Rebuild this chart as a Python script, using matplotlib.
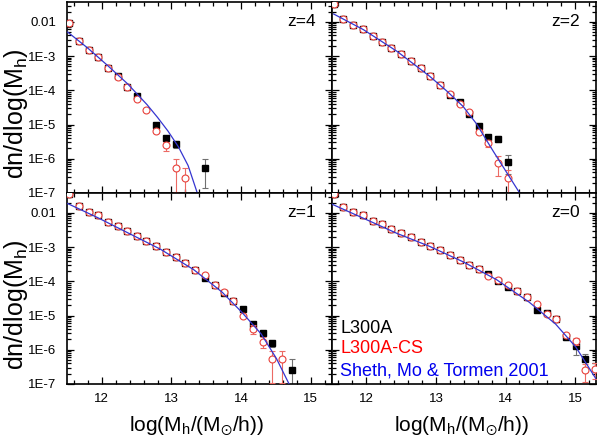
import numpy as np
import matplotlib
matplotlib.use('Agg')
import matplotlib.pyplot as plt
from matplotlib.ticker import FixedLocator, MultipleLocator, LogLocator, NullFormatter

plt.rcParams['font.family'] = ['Liberation Sans', 'DejaVu Sans']
plt.rcParams['mathtext.default'] = 'regular'

# mass bin centres, log(Mh/(Msun/h))
logm = [11.53, 11.67, 11.81, 11.95, 12.09, 12.23, 12.36, 12.50, 12.64, 12.78,
        12.92, 13.06, 13.20, 13.34, 13.48, 13.62, 13.75, 13.89, 14.03, 14.17,
        14.31, 14.45, 14.59, 14.73, 14.87, 15.01, 15.14, 15.28]
nan = np.nan

# z=4  (log10 dn/dlogM)
z4_a = [-2.04, -2.55, -2.82, -3.03, -3.35, -3.59, -3.89, -4.18, nan, -5.00,
        -5.38, -5.57, nan, nan, -6.26]
z4_cs = [-2.04, -2.55, -2.82, -3.03, -3.35, -3.61, -3.89, -4.24, -4.58, -5.20,
         -5.61, -6.26, -6.57, nan, nan]
z4_a_err = [0.02, 0.02, 0.02, 0.03, 0.03, 0.04, 0.05, 0.06, nan, 0.10,
            0.12, 0.25, nan, nan, 0.75]
z4_cs_err = [0.02, 0.02, 0.02, 0.03, 0.03, 0.04, 0.05, 0.06, 0.08, 0.12,
             0.30, 0.80, 0.95, nan, nan]
z4_smt_m = [11.51, 11.80, 12.08, 12.37, 12.65, 12.80, 12.95, 13.10, 13.24, 13.37]
z4_smt = [-2.30, -2.77, -3.27, -3.81, -4.42, -4.79, -5.19, -5.65, -6.20, -6.99]

# z=2
z2_a = [-1.47, -1.91, -2.09, -2.22, -2.41, -2.58, -2.76, -2.95, -3.14, -3.35,
        -3.59, -3.84, -4.14, -4.34, -4.68, -5.05, -5.36, -5.41, -6.09]
z2_cs = [-1.47, -1.91, -2.09, -2.22, -2.41, -2.58, -2.76, -2.95, -3.14, -3.35,
         -3.59, -3.84, -4.10, -4.39, -4.63, -5.22, -5.54, -6.11, -6.57]
z2_a_err = [0.02, 0.02, 0.02, 0.02, 0.02, 0.02, 0.02, 0.03, 0.03, 0.03,
            0.03, 0.04, 0.04, 0.05, 0.06, 0.10, 0.12, 0.20, 0.55]
z2_cs_err = [0.02, 0.02, 0.02, 0.02, 0.02, 0.02, 0.02, 0.03, 0.03, 0.03,
             0.03, 0.04, 0.04, 0.05, 0.06, 0.12, 0.22, 0.60, 0.75]
z2_smt_m = [11.53, 11.96, 12.44, 12.91, 13.15, 13.39, 13.58, 13.83, 14.20]
z2_smt = [-1.77, -2.23, -2.86, -3.59, -4.01, -4.47, -4.97, -5.80, -6.99]

# z=1
z1_a = [-1.46, -1.80, -1.97, -2.07, -2.26, -2.38, -2.53, -2.67, -2.82, -2.96,
        -3.14, -3.30, -3.47, -3.66, -3.89, -4.10, -4.35, -4.59, -4.81, -5.26,
        -5.51, -5.81, nan, -6.58]
z1_cs = [-1.46, -1.80, -1.97, -2.07, -2.26, -2.38, -2.53, -2.67, -2.82, -2.96,
         -3.14, -3.30, -3.47, -3.66, -3.82, -4.10, -4.30, -4.59, -5.00, -5.39,
         -5.76, -6.28, -6.28, nan]
z1_a_err = [0.02, 0.02, 0.02, 0.02, 0.02, 0.02, 0.02, 0.02, 0.02, 0.03,
            0.03, 0.03, 0.03, 0.04, 0.04, 0.04, 0.05, 0.06, 0.08, 0.12,
            0.15, 0.20, nan, 1.00]
z1_cs_err = [0.02, 0.02, 0.02, 0.02, 0.02, 0.02, 0.02, 0.02, 0.02, 0.03,
             0.03, 0.03, 0.03, 0.04, 0.04, 0.04, 0.05, 0.06, 0.10, 0.30,
             0.35, 0.80, 0.80, nan]
z1_smt_m = [11.51, 11.94, 12.37, 12.84, 13.32, 13.73, 14.01, 14.29, 14.51, 14.70]
z1_smt = [-1.73, -2.14, -2.58, -3.06, -3.66, -4.32, -4.90, -5.54, -6.26, -7.04]

# z=0
z0_a = [-1.46, -1.82, -1.97, -2.06, -2.23, -2.33, -2.46, -2.58, -2.70, -2.84,
        -2.96, -3.09, -3.22, -3.37, -3.51, -3.64, -3.79, -3.98, -4.16, -4.27,
        -4.47, -4.83, -4.92, -5.10, -5.63, -5.89, -6.28, nan]
z0_cs = [-1.46, -1.82, -1.97, -2.06, -2.23, -2.33, -2.46, -2.58, -2.70, -2.84,
         -2.96, -3.09, -3.22, -3.37, -3.51, -3.64, -3.84, -3.95, -4.10, -4.27,
         -4.47, -4.66, -4.97, -5.10, -5.57, -5.75, -6.60, -6.56]
z0_a_err = [0.02, 0.02, 0.02, 0.02, 0.02, 0.02, 0.02, 0.02, 0.02, 0.02,
            0.03, 0.03, 0.03, 0.03, 0.03, 0.04, 0.04, 0.04, 0.05, 0.05,
            0.06, 0.08, 0.08, 0.10, 0.15, 0.45, 0.45, nan]
z0_cs_err = [0.02, 0.02, 0.02, 0.02, 0.02, 0.02, 0.02, 0.02, 0.02, 0.02,
             0.03, 0.03, 0.03, 0.03, 0.03, 0.04, 0.04, 0.04, 0.05, 0.05,
             0.06, 0.08, 0.08, 0.10, 0.15, 0.20, 0.55, 0.50]
z0_smt_m = [11.51, 11.96, 12.44, 12.91, 13.39, 13.87, 14.34, 14.72, 15.01, 15.30]
z0_smt = [-1.75, -2.16, -2.60, -2.98, -3.43, -3.95, -4.61, -5.25, -5.92, -6.85]

ytick_vals = [1e-2, 1e-3, 1e-4, 1e-5, 1e-6, 1e-7]
ytick_labels = ['0.01', '1E-3', '1E-4', '1E-5', '1E-6', '1E-7']
xtick_vals = [12, 13, 14, 15]

panels = [
    ('z=4', z4_a, z4_cs, z4_a_err, z4_cs_err, z4_smt_m, z4_smt),
    ('z=2', z2_a, z2_cs, z2_a_err, z2_cs_err, z2_smt_m, z2_smt),
    ('z=1', z1_a, z1_cs, z1_a_err, z1_cs_err, z1_smt_m, z1_smt),
    ('z=0', z0_a, z0_cs, z0_a_err, z0_cs_err, z0_smt_m, z0_smt),
]

fig, axes = plt.subplots(2, 2, figsize=(6, 4.41), dpi=100, sharex=True, sharey=True)
fig.subplots_adjust(left=0.1117, right=0.9933, top=0.9955, bottom=0.1293,
                    wspace=0, hspace=0)

for ax, (zlab, a, cs, a_err, cs_err, sm, sv) in zip(axes.flat, panels):
    m_a = np.array(logm[:len(a)])
    y_a = 10 ** np.array(a)
    m_cs = np.array(logm[:len(cs)])
    y_cs = 10 ** np.array(cs)
    ax.errorbar(m_a, y_a, yerr=y_a * np.array(a_err), fmt='s', ms=4.2, color='black',
                ecolor='#707070', elinewidth=0.8, capsize=2, capthick=0.8, zorder=2)
    ax.errorbar(m_cs, y_cs, yerr=y_cs * np.array(cs_err), fmt='o', ms=5, mfc='white',
                mec='#e8403a', mew=0.8, ecolor='#ec6a64', elinewidth=0.8,
                capsize=2.5, capthick=0.8, zorder=3)
    ax.plot(sm, 10 ** np.array(sv), color='#3535d0', lw=0.9, zorder=4)

    ax.set_yscale('log')
    ax.set_xlim(11.5, 15.3)
    ax.set_ylim(1e-7, 10 ** -1.42)
    ax.yaxis.set_major_locator(FixedLocator(ytick_vals))
    ax.set_yticklabels(ytick_labels)
    ax.yaxis.set_minor_locator(LogLocator(base=10, subs=np.arange(2, 10)))
    ax.yaxis.set_minor_formatter(NullFormatter())
    ax.xaxis.set_major_locator(FixedLocator(xtick_vals))
    ax.xaxis.set_minor_locator(MultipleLocator(0.2))
    ax.tick_params(which='both', direction='in', top=True, right=True,
                   width=0.9, labelsize=9.5)
    ax.tick_params(axis='y', pad=8)
    ax.tick_params(axis='x', pad=6.5)
    ax.tick_params(which='major', length=5)
    ax.tick_params(which='minor', length=3)
    for sp in ax.spines.values():
        sp.set_linewidth(1.2)
    ax.text(0.94, 0.90, zlab, transform=ax.transAxes, ha='right', va='center',
            fontsize=12.5)

for ax in axes[:, 0]:
    ax.text(-0.192, 0.414, 'dn/dlog(M$_h$)', transform=ax.transAxes, rotation=90,
            ha='center', va='center', fontsize=18)
for ax in axes[1, :]:
    ax.set_xlabel('log(M$_h$/(M$_{\\odot}$/h))', fontsize=15)
    ax.xaxis.set_label_coords(0.49, -0.16)

lax = axes[1, 1]
lax.text(0.034, 0.267, 'L300A', color='black', fontsize=13, transform=lax.transAxes)
lax.text(0.034, 0.162, 'L300A-CS', color='red', fontsize=13, transform=lax.transAxes)
lax.text(0.034, 0.042, 'Sheth, Mo & Tormen 2001', color='#0000ee', fontsize=13,
         transform=lax.transAxes)

fig.savefig('out.png', dpi=100)
